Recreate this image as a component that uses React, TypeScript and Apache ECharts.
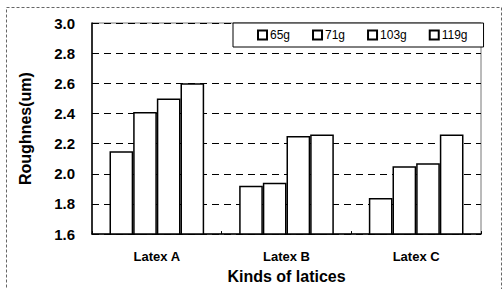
import React, { useEffect, useRef } from "react";
import * as echarts from "echarts";

const categories = ["Latex A", "Latex B", "Latex C"];
const seriesNames = ["65g", "71g", "103g", "119g"];
const s65 = [2.15, 1.92, 1.84];
const s71 = [2.41, 1.94, 2.05];
const s103 = [2.5, 2.25, 2.07];
const s119 = [2.6, 2.26, 2.26];
const seriesValues = [s65, s71, s103, s119];

const FONT = "Liberation Sans";

export default function App() {
  const ref = useRef<HTMLDivElement>(null);
  useEffect(() => {
    if (!ref.current) return;
    const chart = echarts.init(ref.current, undefined, { renderer: "svg" });
    chart.setOption({
      animation: false,
      backgroundColor: "#fff",
      textStyle: { fontFamily: FONT },
      graphic: [
        {
          type: "rect",
          shape: { x: 6.5, y: 7.5, width: 495, height: 290 },
          style: { fill: "none", stroke: "#666", lineWidth: 1, lineDash: [3, 2] },
          silent: true,
        },
      ],
      grid: {
        left: 92,
        top: 23,
        right: 23,
        bottom: 50,
        show: true,
        borderColor: "#777",
        borderWidth: 1,
        backgroundColor: "transparent",
      },
      legend: {
        data: seriesNames,
        left: 233,
        top: 23,
        padding: [6, 16, 6, 24],
        borderColor: "#000",
        borderWidth: 1,
        backgroundColor: "#fff",
        itemGap: 22,
        itemWidth: 9,
        itemHeight: 9,
        icon: "rect",
        textStyle: { fontFamily: FONT, fontSize: 12, color: "#000", padding: [0, 0, 0, -2] },
      },
      xAxis: {
        type: "category",
        data: categories,
        name: "Kinds of latices",
        nameLocation: "middle",
        nameGap: 26,
        nameTextStyle: { fontFamily: FONT, fontWeight: "bold", fontSize: 16, color: "#000" },
        axisLine: { lineStyle: { color: "#000", width: 1.5 } },
        axisTick: { show: true, inside: true, length: 3, lineStyle: { color: "#000" } },
        axisLabel: { margin: 16, fontFamily: FONT, fontWeight: "bold", fontSize: 13, color: "#000" },
      },
      yAxis: {
        type: "value",
        min: 1.6,
        max: 3.0,
        interval: 0.2,
        name: "Roughnes(um)",
        nameLocation: "middle",
        nameGap: 59,
        nameTextStyle: { fontFamily: FONT, fontWeight: "bold", fontSize: 16, color: "#000" },
        axisLine: { show: true, lineStyle: { color: "#000", width: 1.5 } },
        axisTick: { show: false },
        axisLabel: {
          margin: 17,
          fontFamily: FONT,
          fontWeight: "bold",
          fontSize: 15,
          color: "#000",
          formatter: (v: number) => v.toFixed(1),
        },
        splitLine: { show: true, lineStyle: { color: "#000", width: 1, type: [7, 5] } },
      },
      series: seriesNames.map((n, i) => ({
        name: n,
        type: "bar",
        data: seriesValues[i],
        barGap: "0%",
        barCategoryGap: "27%",
        itemStyle: { color: "#fff", borderColor: "#000", borderWidth: 1.5 },
      })),
    });
    return () => chart.dispose();
  }, []);
  return (
    <div
      ref={ref}
      style={{ position: "fixed", left: 0, top: 0, width: 504, height: 289 }}
    />
  );
}
